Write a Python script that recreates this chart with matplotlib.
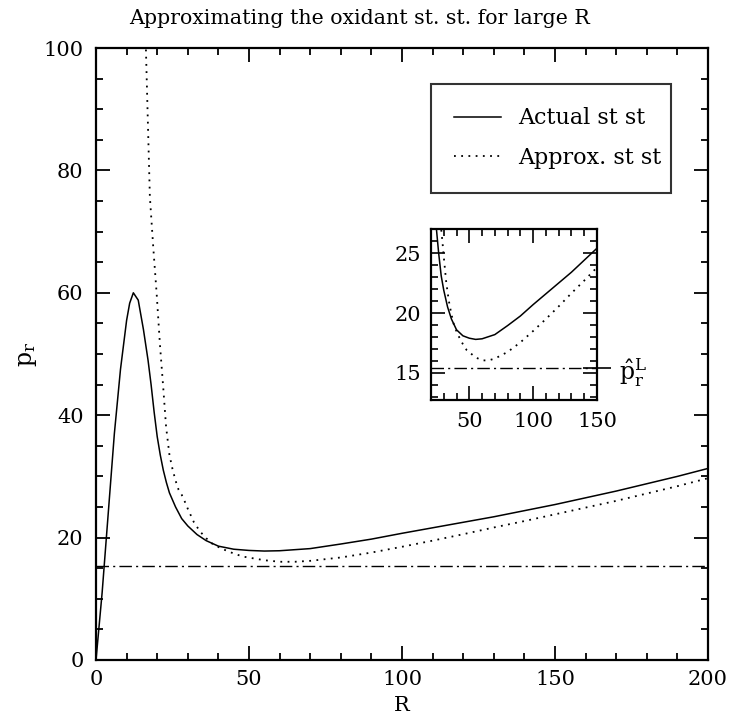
import numpy as np
import matplotlib
matplotlib.use('Agg')
import matplotlib.pyplot as plt
from matplotlib.ticker import MultipleLocator

plt.rcParams['font.family'] = ['DejaVu Serif', 'DejaVu Sans']
plt.rcParams['mathtext.fontset'] = 'custom'
plt.rcParams['mathtext.rm'] = 'DejaVu Serif'
plt.rcParams['mathtext.it'] = 'DejaVu Serif'

# actual steady state (solid)
R_act = [0, 2, 4, 6, 8, 10, 11, 12.2, 13.8, 15.5, 17, 18, 19, 20, 21, 22, 23, 24,
         26, 28, 30, 33, 36, 40, 45, 50, 55, 60, 70, 80, 90, 100, 110, 120,
         130, 140, 150, 160, 170, 180, 190, 200]
p_act = [0, 11, 24, 37, 47.5, 55.5, 58.3, 60.0, 58.8, 54.0, 49.0, 45.0, 40.5, 36.5,
         33.5, 31.0, 29.0, 27.3, 25.0, 23.1, 21.9, 20.5, 19.5, 18.6, 18.1, 17.9,
         17.8, 17.85, 18.2, 18.95, 19.75, 20.7, 21.6, 22.5, 23.4, 24.4, 25.4, 26.5,
         27.6, 28.8, 30.0, 31.3]

# approximate steady state (dotted)
R_apx = [15.8, 16.3, 17.6, 18.7, 19.8, 20.9, 22, 22.9, 24, 25, 26, 27, 28, 29,
         30, 32, 34, 36, 38, 41, 45, 48, 55, 60, 65, 70, 80, 90, 100, 110, 120,
         130, 140, 150, 160, 170, 180, 190, 200]
p_apx = [110, 100, 75.7, 67.5, 60.0, 51.5, 44.3, 38.1, 33.5, 31.2, 29.3, 27.8,
         27.0, 25.9, 24.7, 22.5, 21.0, 19.9, 19.0, 18.2, 17.4, 16.9, 16.3, 16.05,
         16.05, 16.2, 16.75, 17.55, 18.5, 19.5, 20.55, 21.65, 22.7, 23.8, 24.9,
         26.0, 27.2, 28.4, 29.7]

p_hat = 15.4

dashdot = (0, (9, 3, 1.5, 3))
dots = (0, (1, 3))

fig = plt.figure(figsize=(7.29, 7.22), dpi=100)
ax = fig.add_axes([0.1317, 0.0859, 0.8395, 0.8476])

ax.plot(R_act, p_act, color='black', lw=1.1, label='Actual st st')
ax.plot(R_apx, p_apx, color='black', lw=1.3, linestyle=dots, label='Approx. st st')
ax.axhline(p_hat, color='black', lw=1.0, linestyle=dashdot)

ax.set_xlim(0, 200)
ax.set_ylim(0, 100)
ax.xaxis.set_major_locator(MultipleLocator(50))
ax.xaxis.set_minor_locator(MultipleLocator(10))
ax.yaxis.set_major_locator(MultipleLocator(20))
ax.yaxis.set_minor_locator(MultipleLocator(5))
ax.tick_params(which='both', direction='in', top=True, right=True, width=1.3,
               labelsize=15)
ax.tick_params(which='major', length=10)
ax.tick_params(which='minor', length=5)
ax.tick_params(axis='x', pad=7)
ax.tick_params(axis='y', pad=9)
for s in ax.spines.values():
    s.set_linewidth(1.6)

ax.set_xlabel('R', fontsize=15, labelpad=5)
ax.set_ylabel(r'$\mathrm{p_r}$', fontsize=17, labelpad=3)
fig.text(0.4925, 0.975, 'Approximating the oxidant st. st. for large R',
         ha='center', va='center', fontsize=14.8)

leg = ax.legend(loc='upper left', bbox_to_anchor=(0.547, 0.761, 0.393, 0.18),
                mode='expand', borderaxespad=0, fontsize=16, frameon=True,
                fancybox=False, handlelength=2.1, handletextpad=0.8,
                borderpad=1.05, labelspacing=0.8)
leg.get_frame().set_edgecolor('black')
leg.get_frame().set_linewidth(1.5)

# inset
axi = fig.add_axes([0.5912, 0.446, 0.2277, 0.2368])
axi.plot(R_act, p_act, color='black', lw=1.1)
axi.plot(R_apx, p_apx, color='black', lw=1.3, linestyle=dots)
axi.axhline(p_hat, color='black', lw=1.0, linestyle=dashdot)
axi.set_xlim(20, 150)
axi.set_ylim(12.75, 27)
axi.xaxis.set_major_locator(MultipleLocator(50))
axi.xaxis.set_minor_locator(MultipleLocator(10))
axi.yaxis.set_major_locator(MultipleLocator(5))
axi.yaxis.set_minor_locator(MultipleLocator(1))
axi.tick_params(which='both', direction='in', top=True, right=True, width=1.2,
                labelsize=15)
axi.tick_params(which='major', length=10)
axi.tick_params(which='minor', length=5)
axi.tick_params(axis='x', pad=9)
axi.tick_params(axis='y', pad=7)
for s in axi.spines.values():
    s.set_linewidth(1.6)

sec = axi.secondary_yaxis('right')
sec.set_yticks([p_hat], labels=[r'$\mathrm{\hat{p}_r^L}$'])
sec.tick_params(direction='inout', length=20, width=1.2, labelsize=17, pad=6)
sec.yaxis.set_minor_locator(MultipleLocator(100))
sec.spines['right'].set_visible(False)

fig.savefig('out.png', dpi=100)
